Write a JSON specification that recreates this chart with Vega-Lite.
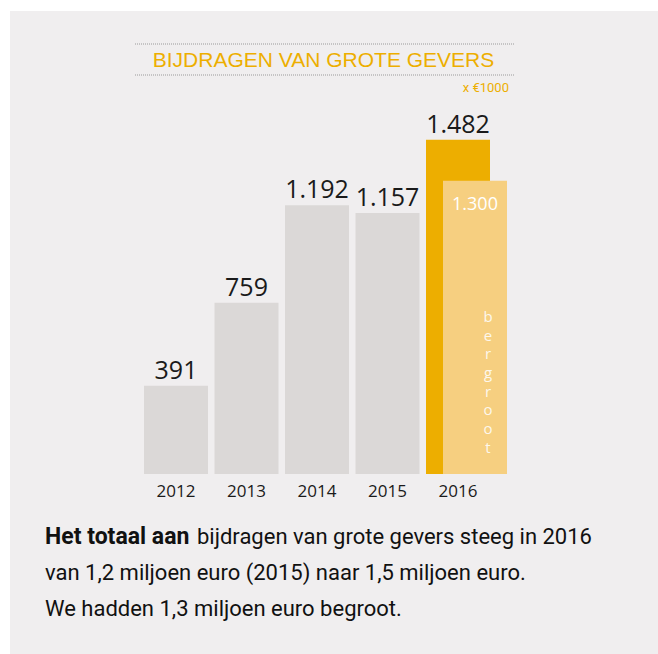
{
  "$schema": "https://vega.github.io/schema/vega-lite/v6.json",
  "autosize": "none",
  "padding": {"left": 10, "top": 11, "right": 0, "bottom": 0},
  "width": 648,
  "height": 643,
  "background": "#ffffff",
  "config": {
    "view": {"fill": "#f0eeef", "stroke": null},
    "locale": {"number": {"decimal": ",", "thousands": ".", "grouping": [3], "currency": ["€", ""]}}
  },
  "data": {
    "values": [
      {"year": "2012", "value": 391, "series": "actual"},
      {"year": "2013", "value": 759, "series": "actual"},
      {"year": "2014", "value": 1192, "series": "actual"},
      {"year": "2015", "value": 1157, "series": "actual"},
      {"year": "2016", "value": 1482, "series": "actual"},
      {"year": "2016", "value": 1300, "series": "budget"}
    ]
  },
  "encoding": {
    "x": {
      "field": "year", "type": "ordinal",
      "scale": {"type": "band", "range": [134, 480], "paddingInner": 0.0922, "paddingOuter": 0},
      "axis": {
        "title": null, "domain": false, "ticks": false, "tickSize": 0, "labelAngle": 0,
        "offset": -180, "labelPadding": 22, "labelBaseline": "alphabetic",
        "labelFont": "Open Sans", "labelFontSize": 17, "labelColor": "#1a1a1a"
      }
    },
    "y": {
      "field": "value", "type": "quantitative",
      "scale": {"domain": [0, 2053], "range": [463, 0], "nice": false, "zero": true},
      "axis": null
    }
  },
  "layer": [
    {
      "transform": [{"filter": "datum.series == 'actual'"}],
      "mark": {"type": "bar"},
      "encoding": {
        "color": {"condition": {"test": "datum.year == '2016'", "value": "#edae00"}, "value": "#dbd8d7"}
      }
    },
    {
      "transform": [{"filter": "datum.series == 'actual'"}],
      "mark": {"type": "text", "baseline": "alphabetic", "align": "center", "dy": -7, "font": "Open Sans", "fontSize": 25, "color": "#1a1a1a"},
      "encoding": {"text": {"field": "value", "type": "quantitative", "format": ",.0f"}}
    },
    {
      "transform": [{"filter": "datum.series == 'budget'"}],
      "mark": {"type": "bar", "xOffset": 17, "color": "#f6cf80"}
    },
    {
      "transform": [{"filter": "datum.series == 'budget'"}],
      "mark": {"type": "text", "xOffset": 17, "baseline": "alphabetic", "align": "center", "dy": 29, "font": "Open Sans", "fontSize": 18, "color": "#ffffff"},
      "encoding": {"text": {"field": "value", "type": "quantitative", "format": ",.0f"}}
    },
    {
      "transform": [{"filter": "datum.series == 'budget'"}],
      "mark": {"type": "text", "xOffset": 17, "dx": 13, "baseline": "alphabetic", "align": "center", "dy": 141, "font": "Open Sans", "fontSize": 15, "lineHeight": 18.7, "color": "#ffffff", "opacity": 0.85},
      "encoding": {"text": {"value": ["b", "e", "r", "g", "r", "o", "o", "t"]}}
    },
    {
      "data": {"values": [{}]},
      "mark": {"type": "rule", "color": "#9a9a9a", "strokeDash": [1, 1], "strokeWidth": 1},
      "encoding": {"x": {"value": 125}, "x2": {"value": 504}, "y": {"value": 33}}
    },
    {
      "data": {"values": [{}]},
      "mark": {"type": "rule", "color": "#9a9a9a", "strokeDash": [1, 1], "strokeWidth": 1},
      "encoding": {"x": {"value": 125}, "x2": {"value": 504}, "y": {"value": 64}}
    },
    {
      "data": {"values": [{}]},
      "mark": {"type": "text", "align": "center", "baseline": "alphabetic", "font": "Liberation Sans", "fontSize": 21, "color": "#edae00"},
      "encoding": {"x": {"value": 313.5}, "y": {"value": 56}, "text": {"value": "BIJDRAGEN VAN GROTE GEVERS"}}
    },
    {
      "data": {"values": [{}]},
      "mark": {"type": "text", "align": "right", "baseline": "alphabetic", "font": "Roboto", "fontSize": 13, "color": "#edae00"},
      "encoding": {"x": {"value": 499}, "y": {"value": 81}, "text": {"value": "x €1000"}}
    },
    {
      "data": {"values": [{}]},
      "mark": {"type": "text", "align": "left", "baseline": "alphabetic", "font": "Roboto", "fontSize": 23, "fontWeight": "bold", "color": "#111111"},
      "encoding": {"x": {"value": 35}, "y": {"value": 533}, "text": {"value": "Het totaal aan"}}
    },
    {
      "data": {"values": [{}]},
      "mark": {"type": "text", "align": "left", "baseline": "alphabetic", "font": "Roboto", "fontSize": 22, "color": "#111111"},
      "encoding": {"x": {"value": 187}, "y": {"value": 533}, "text": {"value": "bijdragen van grote gevers steeg in 2016"}}
    },
    {
      "data": {"values": [{}]},
      "mark": {"type": "text", "align": "left", "baseline": "alphabetic", "font": "Roboto", "fontSize": 22, "lineHeight": 35.5, "color": "#111111"},
      "encoding": {"x": {"value": 35}, "y": {"value": 569}, "text": {"value": ["van 1,2 miljoen euro (2015) naar 1,5 miljoen euro.", "We hadden 1,3 miljoen euro begroot."]}}
    }
  ]
}
